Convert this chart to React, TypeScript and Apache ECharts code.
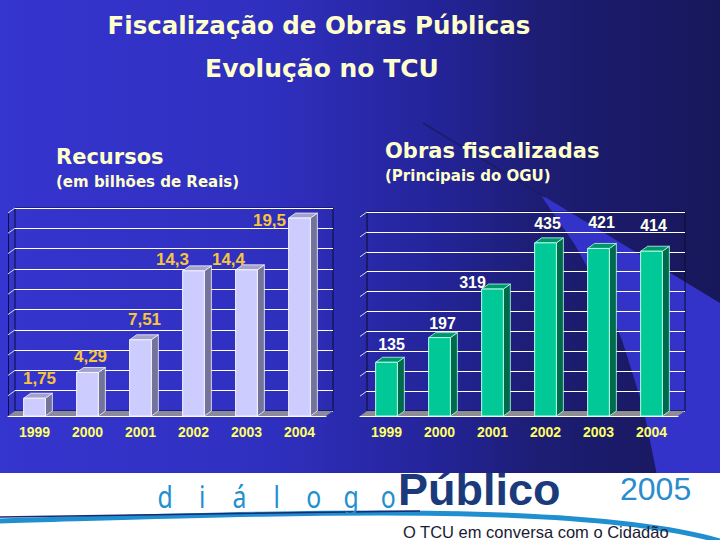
import React, { useEffect, useRef } from 'react';
import * as echarts from 'echarts';

// ---------- data ----------
const years = ['1999', '2000', '2001', '2002', '2003', '2004'];
const recursos = [1.75, 4.29, 7.51, 14.3, 14.4, 19.5];
const obras = [135, 197, 319, 435, 421, 414];
const recursosTicks = [2, 4, 6, 8, 10, 12, 14, 16, 18, 20];
const obrasTicks = [50, 100, 150, 200, 250, 300, 350, 400, 450, 500];

// ---------- layout (label nudges relative to bar top centre) ----------
const recursosLabelShift = [[5, -20], [3, -16], [4, -20], [-21, -11], [-18, -10], [-30, 2]];
const obrasLabelShift = [[5, -18], [3, -14], [-20, -7], [2, -19], [3, -26], [2, -26]];

const DEPTH = 7;
const RISE = 5;
const GL = { left: 8, top: 213, width: 318, height: 203 };
const GR = { left: 360, top: 217, width: 318, height: 199 };

const fmt = (v: number) => String(v).replace('.', ',');

function bar3d(
  front: string,
  side: string,
  topc: string,
  edge: string,
  shifts: number[][],
  labelColor: string,
  labelSize: number
) {
  return (params: any, api: any) => {
    const i = params.dataIndex;
    const v = api.value(1);
    const t = api.coord([api.value(0), v]);
    const b = api.coord([api.value(0), 0]);
    const band = api.size([1, 0])[0];
    const w = band * 0.41;
    const x0 = t[0] - w / 2;
    const x1 = t[0] + w / 2;
    const yT = t[1];
    const yB = b[1];
    const sh = shifts[i] || [0, -16];
    return {
      type: 'group',
      children: [
        {
          type: 'polygon',
          shape: { points: [[x1, yT], [x1 + DEPTH, yT - RISE], [x1 + DEPTH, yB - RISE], [x1, yB]] },
          style: { fill: side, stroke: edge, lineWidth: 0.8 },
        },
        {
          type: 'polygon',
          shape: { points: [[x0, yT], [x0 + DEPTH, yT - RISE], [x1 + DEPTH, yT - RISE], [x1, yT]] },
          style: { fill: topc, stroke: edge, lineWidth: 0.8 },
        },
        {
          type: 'rect',
          shape: { x: x0, y: yT, width: w, height: yB - yT },
          style: { fill: front, stroke: edge, lineWidth: 1 },
        },
        {
          type: 'text',
          x: t[0] + sh[0],
          y: yT + sh[1],
          style: {
            text: fmt(v),
            fill: labelColor,
            fontSize: labelSize,
            fontWeight: 'bold',
            fontFamily: 'Liberation Sans, Arial, sans-serif',
            align: 'center',
            verticalAlign: 'middle',
          },
        },
      ],
    };
  };
}

function wallTicks(color: string) {
  return (params: any, api: any) => {
    const p = api.coord([0, api.value(1)]);
    const band = api.size([1, 0])[0];
    const x = p[0] - band / 2;
    return {
      type: 'line',
      shape: { x1: x, y1: p[1], x2: x + DEPTH, y2: p[1] - RISE },
      style: { stroke: color, lineWidth: 1 },
    };
  };
}

const backGrid = (g: any) => ({
  left: g.left + DEPTH,
  top: g.top - RISE,
  width: g.width,
  height: g.height,
  show: true,
  borderColor: '#0c0c30',
  borderWidth: 1,
  backgroundColor: 'transparent',
});

const frontGrid = (g: any) => ({ left: g.left, top: g.top, width: g.width, height: g.height });

const floorPoly = (g: any, color: string) => ({
  type: 'polygon',
  z: 1,
  shape: {
    points: [
      [g.left, g.top + g.height],
      [g.left + DEPTH, g.top + g.height - RISE],
      [g.left + g.width + DEPTH, g.top + g.height - RISE],
      [g.left + g.width, g.top + g.height],
    ],
  },
  style: { fill: color },
});

const headFont = 'DejaVu Sans, Arial, sans-serif';
const cream = '#ffffcc';

function buildOption() {
  const yearLabel = {
    color: '#ffff66',
    fontSize: 14,
    fontWeight: 'bold',
    fontFamily: 'Liberation Sans, Arial, sans-serif',
    margin: 9,
  };
  return {
    animation: false,
    grid: [backGrid(GL), frontGrid(GL), backGrid(GR), frontGrid(GR)],
    xAxis: [
      { type: 'category', data: years, gridIndex: 0, show: false },
      {
        type: 'category',
        data: years,
        gridIndex: 1,
        z: 3,
        axisLine: { lineStyle: { color: '#ffffff', width: 1 } },
        axisTick: { lineStyle: { color: '#ffffff' }, length: 4 },
        axisLabel: yearLabel,
      },
      { type: 'category', data: years, gridIndex: 2, show: false },
      {
        type: 'category',
        data: years,
        gridIndex: 3,
        z: 3,
        axisLine: { lineStyle: { color: '#ffffff', width: 1 } },
        axisTick: { lineStyle: { color: '#ffffff' }, length: 4 },
        axisLabel: yearLabel,
      },
    ],
    yAxis: [
      {
        type: 'value', gridIndex: 0, min: 0, max: 20, interval: 2,
        axisLine: { show: false }, axisTick: { show: false }, axisLabel: { show: false },
        splitLine: { lineStyle: { color: '#ffffff', width: 1 } },
      },
      {
        type: 'value', gridIndex: 1, min: 0, max: 20, interval: 2,
        axisLine: { show: true, lineStyle: { color: '#10103a' } }, axisTick: { show: false },
        axisLabel: { show: false }, splitLine: { show: false },
      },
      {
        type: 'value', gridIndex: 2, min: 0, max: 500, interval: 50,
        axisLine: { show: false }, axisTick: { show: false }, axisLabel: { show: false },
        splitLine: { lineStyle: { color: '#ffffff', width: 1 } },
      },
      {
        type: 'value', gridIndex: 3, min: 0, max: 500, interval: 50,
        axisLine: { show: false }, axisTick: { show: false },
        axisLabel: { show: false }, splitLine: { show: false },
      },
    ],
    series: [
      {
        type: 'custom',
        name: 'wallL',
        xAxisIndex: 1,
        yAxisIndex: 1,
        z: 1,
        renderItem: wallTicks('#d8d8f0'),
        data: recursosTicks.map((t) => [0, t]),
      },
      {
        type: 'custom',
        name: 'wallR',
        xAxisIndex: 3,
        yAxisIndex: 3,
        z: 1,
        renderItem: wallTicks('#d8d8f0'),
        data: obrasTicks.map((t) => [0, t]),
      },
      {
        type: 'custom',
        name: 'Recursos',
        xAxisIndex: 1,
        yAxisIndex: 1,
        z: 4,
        renderItem: bar3d('#ccccff', '#74749a', '#a2a2cc', '#f4f4ff', recursosLabelShift, '#f7c53c', 17),
        data: recursos.map((v, i) => [i, v]),
      },
      {
        type: 'custom',
        name: 'Obras',
        xAxisIndex: 3,
        yAxisIndex: 3,
        z: 4,
        renderItem: bar3d('#00c896', '#006a4c', '#00956c', '#b8ffe4', obrasLabelShift, '#fffff0', 16),
        data: obras.map((v, i) => [i, v]),
      },
    ],
    graphic: [
      // background
      {
        type: 'rect',
        z: -10,
        shape: { x: 0, y: 0, width: 720, height: 540 },
        style: {
          fill: {
            type: 'linear', x: 0, y: 0, x2: 1, y2: 0,
            colorStops: [
              { offset: 0, color: '#3535cf' },
              { offset: 0.38, color: '#2f2fbf' },
              { offset: 0.6, color: '#24249a' },
              { offset: 0.75, color: '#1d1d74' },
              { offset: 1, color: '#17175a' },
            ],
          },
        },
      },
      {
        type: 'polygon',
        z: -9,
        shape: {
          points: [
            [540, 194], [720, 303], [720, 475], [657, 475], [643, 407],
            [622, 340], [600, 290], [575, 245],
          ],
        },
        style: { fill: '#3333c9' },
      },
      {
        type: 'line',
        z: -9,
        shape: { x1: 423, y1: 123, x2: 545, y2: 197 },
        style: { stroke: '#1c1c66', lineWidth: 1.5 },
      },
      // footer
      { type: 'rect', z: -8, shape: { x: 0, y: 473, width: 720, height: 67 }, style: { fill: '#ffffff' } },
      {
        type: 'bezierCurve',
        z: -7,
        shape: { x1: 0, y1: 521, cpx1: 260, cpy1: 514, cpx2: 580, cpy2: 500, x2: 720, y2: 541 },
        style: { stroke: '#1f8fd0', lineWidth: 5, fill: 'none' },
      },
      {
        type: 'bezierCurve',
        z: -7,
        shape: { x1: 0, y1: 517, cpx1: 150, cpy1: 516, cpx2: 300, cpy2: 512, x2: 420, y2: 511 },
        style: { stroke: '#1a2a70', lineWidth: 1.5, fill: 'none' },
      },
      ...'diálogo'.split('').map((ch, i) => ({
        type: 'text',
        z: -6,
        x: 165 + i * 37.2,
        y: 496,
        scaleX: 0.8,
        style: {
          text: ch,
          fill: '#238fcf',
          fontSize: 31,
          fontStyle: 'normal',
          fontWeight: 'normal',
          fontFamily: 'Noto Sans, DejaVu Sans, sans-serif',
          align: 'center',
          verticalAlign: 'middle',
        },
      })),
      {
        type: 'text', z: -6, x: 398, y: 489,
        style: {
          text: 'Público', fill: '#1b3a7c', fontSize: 45, fontWeight: 'bold',
          fontFamily: 'Liberation Sans, Arial, sans-serif', align: 'left', verticalAlign: 'middle',
        },
      },
      {
        type: 'text', z: -6, x: 620, y: 489,
        style: {
          text: '2005', fill: '#2a8ccc', fontSize: 32,
          fontFamily: 'Liberation Sans, Arial, sans-serif', align: 'left', verticalAlign: 'middle',
        },
      },
      {
        type: 'text', z: -6, x: 403, y: 532,
        style: {
          text: 'O TCU em conversa com o Cidadão', fill: '#1a1a33', fontSize: 16.5,
          fontFamily: 'Liberation Sans, Arial, sans-serif', align: 'left', verticalAlign: 'middle',
        },
      },
      // headings
      {
        type: 'text', x: 319, y: 25,
        style: { text: 'Fiscalização de Obras Públicas', fill: cream, fontSize: 24.5, fontWeight: 'bold', fontFamily: headFont, align: 'center', verticalAlign: 'middle' },
      },
      {
        type: 'text', x: 322, y: 68,
        style: { text: 'Evolução no TCU', fill: cream, fontSize: 25, fontWeight: 'bold', fontFamily: headFont, align: 'center', verticalAlign: 'middle' },
      },
      {
        type: 'text', x: 56, y: 157,
        style: { text: 'Recursos', fill: cream, fontSize: 21, fontWeight: 'bold', fontFamily: headFont, align: 'left', verticalAlign: 'middle' },
      },
      {
        type: 'text', x: 56, y: 182,
        style: { text: '(em bilhões de Reais)', fill: cream, fontSize: 15, fontWeight: 'bold', fontFamily: headFont, align: 'left', verticalAlign: 'middle' },
      },
      {
        type: 'text', x: 385, y: 151,
        style: { text: 'Obras fiscalizadas', fill: cream, fontSize: 21, fontWeight: 'bold', fontFamily: headFont, align: 'left', verticalAlign: 'middle' },
      },
      {
        type: 'text', x: 385, y: 176,
        style: { text: '(Principais do OGU)', fill: cream, fontSize: 15, fontWeight: 'bold', fontFamily: headFont, align: 'left', verticalAlign: 'middle' },
      },
      floorPoly(GL, '#8a8a9c'),
      floorPoly(GR, '#8e8e92'),
    ],
  };
}

export default function App() {
  const ref = useRef<HTMLDivElement>(null);
  useEffect(() => {
    if (!ref.current) return;
    const chart = echarts.init(ref.current, undefined, { renderer: 'svg' });
    chart.setOption(buildOption() as any);
    return () => chart.dispose();
  }, []);
  return (
    <div
      ref={ref}
      style={{ position: 'absolute', left: 0, top: 0, width: 720, height: 540 }}
    />
  );
}
